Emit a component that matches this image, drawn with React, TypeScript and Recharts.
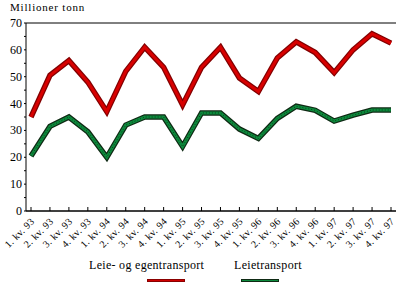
import { LineChart, Line, XAxis, YAxis, CartesianGrid } from "recharts";

const QUARTERS = [
  "1. kv. 93", "2. kv. 93", "3. kv. 93", "4. kv. 93",
  "1. kv. 94", "2. kv. 94", "3. kv. 94", "4. kv. 94",
  "1. kv. 95", "2. kv. 95", "3. kv. 95", "4. kv. 95",
  "1. kv. 96", "2. kv. 96", "3. kv. 96", "4. kv. 96",
  "1. kv. 97", "2. kv. 97", "3. kv. 97", "4. kv. 97",
];

// Leie- og egentransport (mill. tonn)
const LEIE_OG_EGEN = [
  35, 50.5, 56, 48, 37, 52, 61, 53.5, 39.5, 53.5,
  61, 49.5, 44.5, 57, 63, 59, 51.5, 60, 66, 62.5,
];

// Leietransport (mill. tonn)
const LEIE = [
  20.5, 31.5, 35, 29.5, 20, 32, 35, 35, 24, 36.5,
  36.5, 30.5, 27, 34.5, 39, 37.5, 33.5, 35.7, 37.6, 37.6,
];

const SERIES_NAMES = ["Leie- og egentransport", "Leietransport"];
const Y_TICKS = [0, 5, 10, 15, 20, 25, 30, 35, 40, 45, 50, 55, 60, 65, 70];
const Y_MAJOR = [0, 10, 20, 30, 40, 50, 60, 70];

const FONT = "'Liberation Serif', 'Times New Roman', serif";

const data = QUARTERS.map((q, i) => ({
  q,
  total: LEIE_OG_EGEN[i],
  leie: LEIE[i],
}));

function XTick({ x, y, payload }: any) {
  return (
    <text
      transform={`translate(${x + 4},${y + 11}) rotate(-45)`}
      textAnchor="end"
      fontSize={10}
      fontFamily={FONT}
      letterSpacing={0.3}
      fill="#000"
    >
      {payload.value}
    </text>
  );
}

function YTick({ x, y, payload }: any) {
  if (!Y_MAJOR.includes(payload.value)) return <g />;
  return (
    <text
      x={x}
      y={y + 4}
      textAnchor="end"
      fontSize={12}
      fontFamily={FONT}
      fill="#000"
    >
      {payload.value}
    </text>
  );
}

export default function App() {
  return (
    <div style={{ position: "absolute", left: 0, top: 0, width: 400, height: 285, background: "#fff" }}>
      <div
        style={{
          position: "absolute",
          left: 10,
          top: 0,
          fontFamily: FONT,
          fontSize: 11,
          letterSpacing: 0.8,
          lineHeight: "14px",
        }}
      >
        Millioner tonn
      </div>
      <LineChart
        width={400}
        height={285}
        data={data}
        margin={{ top: 23, right: 4, bottom: 0, left: 0 }}
      >
        {/* grid follows the right (border) axis, which only has the 10-steps */}
        <CartesianGrid vertical={false} yAxisId="r" stroke="#000" strokeWidth={1} />
        <XAxis
          dataKey="q"
          interval={0}
          padding={{ left: 5, right: 5 }}
          height={74}
          tickSize={-4}
          tickMargin={4}
          axisLine={{ stroke: "#000" }}
          tickLine={{ stroke: "#000" }}
          tick={<XTick />}
        />
        <YAxis
          width={26}
          domain={[0, 70]}
          ticks={Y_TICKS}
          interval={0}
          tickSize={2}
          tickMargin={2}
          axisLine={{ stroke: "#000" }}
          tickLine={{ stroke: "#000" }}
          tick={<YTick />}
        />
        <YAxis
          yAxisId="r"
          orientation="right"
          width={0}
          domain={[0, 70]}
          ticks={Y_MAJOR}
          interval={0}
          tick={false}
          tickLine={false}
          axisLine={{ stroke: "#000" }}
        />
        <Line dataKey="total" stroke="#820000" strokeWidth={5.5} dot={false} isAnimationActive={false} strokeLinejoin="miter" />
        <Line dataKey="total" stroke="#d80000" strokeWidth={3} dot={false} isAnimationActive={false} strokeLinejoin="miter" />
        <Line dataKey="leie" stroke="#0f2a14" strokeWidth={5.5} dot={false} isAnimationActive={false} strokeLinejoin="miter" />
        <Line dataKey="leie" stroke="#0c8a3c" strokeWidth={3} dot={false} isAnimationActive={false} strokeLinejoin="miter" />
        <Line dataKey="leie" stroke="#0a3a18" strokeWidth={1} strokeDasharray="1 2" dot={false} isAnimationActive={false} />
      </LineChart>
      <div style={{ position: "absolute", left: 89, top: 258, fontFamily: FONT, fontSize: 12, letterSpacing: 0.3, whiteSpace: "nowrap" }}>
        {SERIES_NAMES[0]}
      </div>
      <div style={{ position: "absolute", left: 147, top: 279, width: 38, height: 3, background: "#d00000", boxShadow: "inset 0 0 0 1px #8a0000" }} />
      <div style={{ position: "absolute", left: 234, top: 258, fontFamily: FONT, fontSize: 12, letterSpacing: 0.3, whiteSpace: "nowrap" }}>
        {SERIES_NAMES[1]}
      </div>
      <div style={{ position: "absolute", left: 241, top: 279, width: 38, height: 3, background: "#0c8a3c", boxShadow: "inset 0 0 0 1px #0f2a14" }} />
    </div>
  );
}
